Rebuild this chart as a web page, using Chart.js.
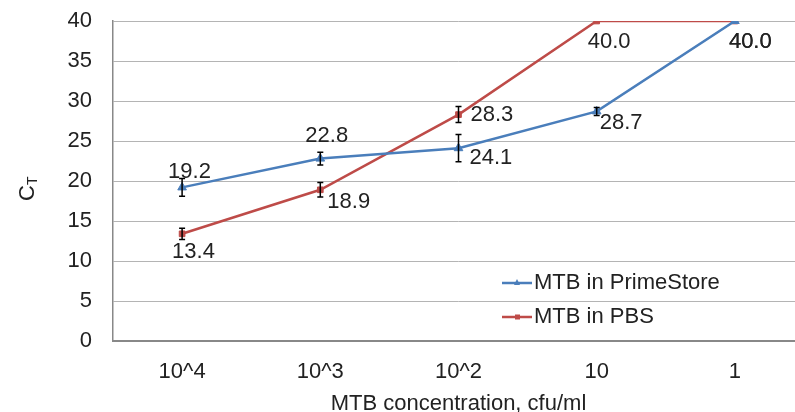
<!DOCTYPE html>
<html>
<head>
<meta charset="utf-8">
<script src="https://cdn.jsdelivr.net/npm/chart.js@4.4.1/dist/chart.umd.min.js"></script>
<style>
    body { margin: 0; overflow: hidden; background: #fff; }
    #wrap { width: 810px; height: 412px; }
</style>
</head>
<body>
<div id="wrap"><canvas id="ct-chart" width="810" height="412"></canvas></div>
<script>
const concentrations = ['10^4', '10^3', '10^2', '10', '1'];
const primeStoreCt = [19.2, 22.8, 24.1, 28.7, 40.0];
const primeStoreErr = [1.1, 0.8, 1.7, 0.5, 0];
const pbsCt = [13.4, 18.9, 28.3, 40.0, 40.0];
const pbsErr = [0.7, 0.9, 1.0, 0, 0];
const yTicks = [0, 5, 10, 15, 20, 25, 30, 35, 40];

// where each value label sits relative to its point (left edge, middle)
const primeStoreLabelPos = [[-14, -15], [-15, -23], [11, 10], [3, 12], [-6, 21]];
const pbsLabelPos = [[-10, 18], [7, 12], [12, 0], [-9, 21], [-6, 21]];

const blue = '#4a7ebb';
const red = '#be4b48';
const textColor = '#222';
const family = '"Liberation Sans", Arial, sans-serif';
const font = '22px ' + family;

const extrasPlugin = {
    id: 'extras',
    afterDatasetsDraw(chart) {
        const ctx = chart.ctx;
        const yScale = chart.scales.y;
        const errs = [primeStoreErr, pbsErr];
        const labelPos = [primeStoreLabelPos, pbsLabelPos];

        ctx.save();
        // error bars
        ctx.strokeStyle = '#000';
        ctx.lineWidth = 1.5;
        chart.data.datasets.forEach((ds, i) => {
            chart.getDatasetMeta(i).data.forEach((pt, j) => {
                const e = errs[i][j];
                if (!e) return;
                const top = yScale.getPixelForValue(ds.data[j] + e);
                const bot = yScale.getPixelForValue(ds.data[j] - e);
                ctx.beginPath();
                ctx.moveTo(pt.x, top); ctx.lineTo(pt.x, bot);
                ctx.moveTo(pt.x - 3, top); ctx.lineTo(pt.x + 3, top);
                ctx.moveTo(pt.x - 3, bot); ctx.lineTo(pt.x + 3, bot);
                ctx.stroke();
            });
        });

        // value labels
        ctx.fillStyle = textColor;
        ctx.font = font;
        ctx.textAlign = 'left';
        ctx.textBaseline = 'middle';
        chart.data.datasets.forEach((ds, i) => {
            chart.getDatasetMeta(i).data.forEach((pt, j) => {
                const off = labelPos[i][j];
                ctx.fillText(ds.data[j].toFixed(1), pt.x + off[0], pt.y + off[1]);
            });
        });

        // legend
        const legendItems = [
            { text: 'MTB in PrimeStore', color: blue, style: 'triangle', y: 283 },
            { text: 'MTB in PBS', color: red, style: 'rect', y: 317 }
        ];
        legendItems.forEach(item => {
            ctx.strokeStyle = item.color;
            ctx.fillStyle = item.color;
            ctx.lineWidth = 2.5;
            ctx.beginPath();
            ctx.moveTo(502, item.y); ctx.lineTo(532, item.y);
            ctx.stroke();
            if (item.style === 'triangle') {
                ctx.beginPath();
                ctx.moveTo(517, item.y - 4); ctx.lineTo(520, item.y + 2); ctx.lineTo(514, item.y + 2);
                ctx.closePath();
                ctx.fill();
            } else {
                ctx.fillRect(515, item.y - 2.5, 5, 5);
            }
            ctx.fillStyle = textColor;
            ctx.fillText(item.text, 534, item.y);
        });

        // y axis title C with subscript T
        ctx.translate(34, 201);
        ctx.rotate(-Math.PI / 2);
        ctx.textBaseline = 'alphabetic';
        ctx.font = font;
        ctx.fillText('C', 0, 0);
        ctx.font = '14px ' + family;
        ctx.fillText('T', 16, 3);
        ctx.restore();
    }
};

const ctx = document.getElementById('ct-chart').getContext('2d');
new Chart(ctx, {
    type: 'line',
    data: {
        labels: concentrations,
        datasets: [
            {
                label: 'MTB in PrimeStore',
                data: primeStoreCt,
                borderColor: blue,
                backgroundColor: blue,
                borderWidth: 2.5,
                pointStyle: 'triangle',
                pointRadius: 5,
                pointBorderWidth: 1,
                tension: 0
            },
            {
                label: 'MTB in PBS',
                data: pbsCt,
                borderColor: red,
                backgroundColor: red,
                borderWidth: 2.5,
                pointStyle: 'rect',
                pointRadius: 4,
                pointBorderWidth: 1,
                tension: 0
            }
        ]
    },
    options: {
        responsive: false,
        animation: false,
        layout: { padding: { top: 21, right: 2, left: 0, bottom: 0 } },
        plugins: {
            legend: { display: false },
            tooltip: { enabled: false }
        },
        scales: {
            x: {
                offset: true,
                grid: { display: false, drawTicks: false },
                border: { color: '#888', width: 2 },
                ticks: { color: textColor, font: { family: family, size: 22 }, padding: 18 },
                title: {
                    display: true,
                    text: 'MTB concentration, cfu/ml',
                    color: textColor,
                    font: { family: family, size: 22 },
                    padding: { top: 4, bottom: -5 }
                },
                afterFit: s => { s.height = 71; }
            },
            y: {
                min: 0,
                max: 40,
                afterBuildTicks: s => { s.ticks = yTicks.map(v => ({ value: v })); },
                grid: { color: '#b4b4b4', lineWidth: 1, drawTicks: false },
                border: { color: '#888', width: 1.5 },
                ticks: { color: textColor, font: { family: family, size: 22 }, padding: 21 },
                afterFit: s => {
                    s.width = 113;
                    s.paddingTop = 0;
                    s.paddingBottom = 0;
                }
            }
        }
    },
    plugins: [extrasPlugin]
});
</script>
</body>
</html>
